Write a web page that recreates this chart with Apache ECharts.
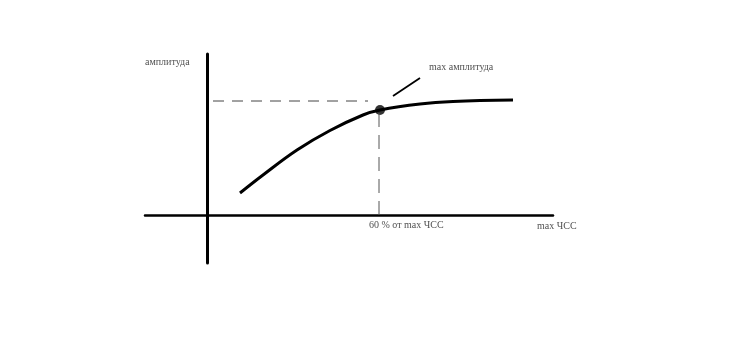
<!DOCTYPE html>
<html><head><meta charset="utf-8">
<script src="https://cdn.jsdelivr.net/npm/echarts@6/dist/echarts.min.js"></script>
<style>html,body{margin:0;padding:0;background:#fff}#c{width:748px;height:344px}</style>
</head><body><div id="c"></div>
<script>
// Schematic: amplitude vs heart rate (arbitrary units)
const curveX = [33, 56, 90, 123, 156, 173, 213, 246, 306];
const curveY = [22, 40, 65, 84.5, 100, 105, 111, 113.5, 115];
const peakX = [173];
const peakY = [105];
const hDashX = [6, 161];
const hDashY = [114, 114];
const vDashX = [172, 172];
const vDashY = [102, 0];
const pointerX = [186, 213];
const pointerY = [119, 137];
const labelTexts = ['амплитуда', 'max амплитуда', '60 % от max ЧСС', 'max ЧСС'];
const labelX = [-62, 222, 162, 330];
const labelY = [153, 148, -10, -11];

const pairs = (xs, ys) => xs.map((x, i) => [x, ys[i]]);

const chart = echarts.init(document.getElementById('c'));
chart.setOption({
  animation: false,
  grid: { left: 145, right: 195, top: 54, bottom: 81 },
  xAxis: {
    type: 'value', min: -62, max: 346,
    axisLine: { onZero: true, lineStyle: { color: '#000', width: 2.5 } },
    axisTick: { show: false }, axisLabel: { show: false }, splitLine: { show: false }
  },
  yAxis: {
    type: 'value', min: -48, max: 161,
    axisLine: { onZero: true, lineStyle: { color: '#000', width: 3 } },
    axisTick: { show: false }, axisLabel: { show: false }, splitLine: { show: false }
  },
  series: [
    { type: 'line', data: pairs(hDashX, hDashY), symbol: 'none',
      lineStyle: { color: '#444', width: 1, type: [11, 8] } },
    { type: 'line', data: pairs(vDashX, vDashY), symbol: 'none',
      lineStyle: { color: '#555', width: 1, type: [14, 8] } },
    { type: 'line', data: pairs(curveX, curveY), smooth: 0.4, symbol: 'none',
      lineStyle: { color: '#000', width: 3 } },
    { type: 'scatter', data: pairs(peakX, peakY), symbol: 'circle', symbolSize: 10,
      itemStyle: { color: '#000' } },
    { type: 'line', data: pairs(pointerX, pointerY), symbol: 'none',
      lineStyle: { color: '#000', width: 1.8 } },
    { type: 'scatter', symbolSize: 0,
      data: labelTexts.map((t, i) => ({ value: [labelX[i], labelY[i]], name: t })),
      label: { show: true, position: 'right', distance: 0, formatter: p => p.name,
        fontFamily: 'Liberation Serif', fontSize: 10, color: '#222' } }
  ]
});
</script></body></html>
